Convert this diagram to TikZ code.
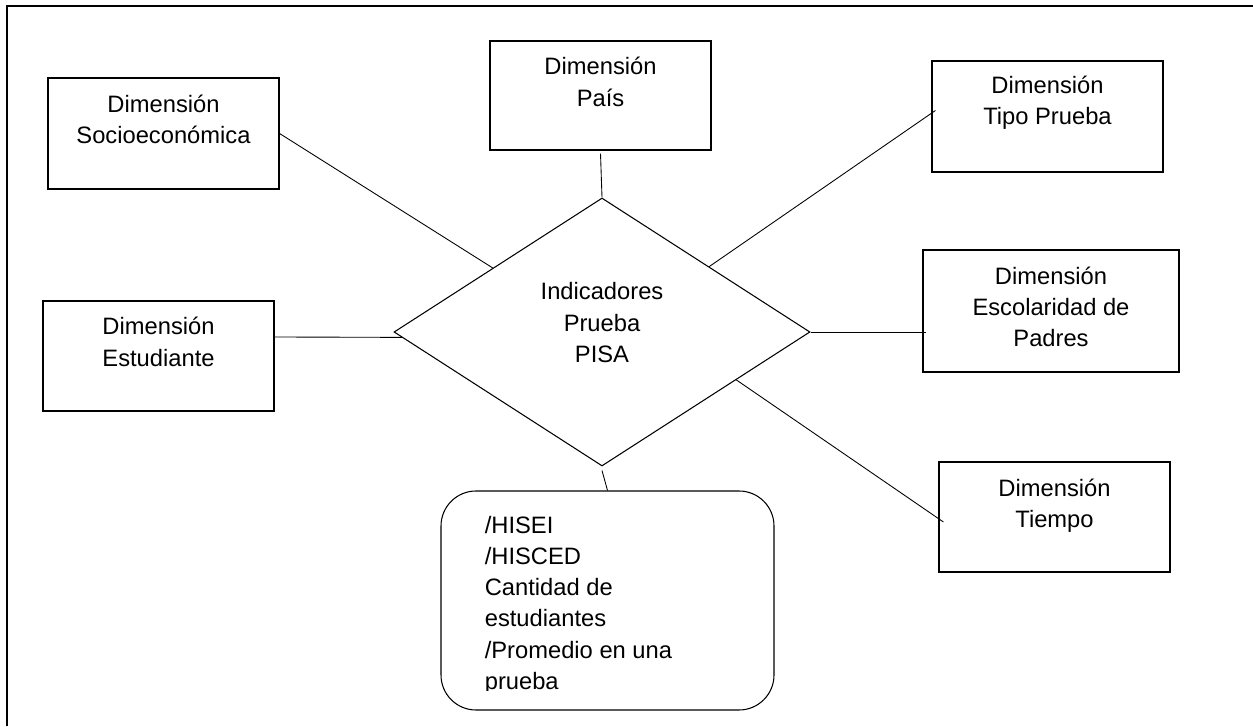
\documentclass[tikz,border=0pt]{standalone}
\usepackage{fontspec}
\setmainfont{Liberation Sans}
\usepackage{tikz}
\usetikzlibrary{shapes.geometric, calc}

\begin{document}
\begin{tikzpicture}[
    dimbox/.style={rectangle, draw=black, line width=0.65pt, minimum width=4.62cm, minimum height=2.22cm, inner sep=0pt},
    dimtext/.style={anchor=north, inner sep=0pt, align=center, font=\fontsize{13.5}{17.8}\selectfont},
    indicbox/.style={diamond, draw=black, line width=0.6pt, minimum width=8.32cm, minimum height=5.36cm, inner sep=0pt, align=center, font=\fontsize{13.5}{17.8}\selectfont},
    listbox/.style={rectangle, rounded corners=0.7cm, draw=black, line width=0.6pt, minimum width=6.66cm, minimum height=4.38cm, inner sep=0pt},
    listtext/.style={anchor=north west, inner sep=0pt, align=left, font=\fontsize{13.5}{17.8}\selectfont},
    link/.style={draw=black, line width=0.5pt},
    frame/.style={line width=1.2pt}
]
\useasboundingbox (0,0) rectangle (25.06,14.52);

% marco
\draw[frame] (0.14,0) -- (0.14,14.40) -- (25.06,14.40);

% indicadores (centro)
\node[indicbox] (ind) at (12.04,7.88) {Indicadores\\Prueba\\PISA\\[-0.25cm]};

% dimensiones
\node[dimbox] (socio) at (3.27,11.85) {};
\node[dimtext] (socio-t) at ([yshift=-0.34cm]socio.north) {Dimensión\\Socioeconómica};

\node[dimbox, minimum width=4.42cm, minimum height=2.18cm] (pais) at (12.01,12.61) {};
\node[dimtext] (pais-t) at ([yshift=-0.33cm]pais.north) {Dimensión\\País};

\node[dimbox] (tipo) at (20.95,12.19) {};
\node[dimtext] (tipo-t) at ([yshift=-0.30cm]tipo.north) {Dimensión\\Tipo Prueba};

\node[dimbox, minimum height=2.2cm] (estud) at (3.17,7.40) {};
\node[dimtext] (estud-t) at ([yshift=-0.33cm]estud.north) {Dimensión\\Estudiante};

\node[dimbox, minimum width=5.12cm, minimum height=2.44cm] (escol) at (21.02,8.30) {};
\node[dimtext] (escol-t) at ([yshift=-0.34cm]escol.north) {Dimensión\\Escolaridad de\\Padres};

\node[dimbox, minimum height=2.2cm] (tiempo) at (21.09,4.18) {};
\node[dimtext] (tiempo-t) at ([yshift=-0.34cm]tiempo.north) {Dimensión\\Tiempo};

% lista de indicadores
\node[listbox] (lista) at (12.15,2.51) {};
\begin{scope}
\clip ([yshift=0.40cm]lista.south west) rectangle (lista.north east);
\node[listtext] (lista-t) at ([xshift=0.88cm, yshift=-0.50cm]lista.north west) {/HISEI\\/HISCED\\Cantidad de\\estudiantes\\/Promedio en una\\prueba};
\end{scope}

% conexiones
\draw[link] (socio.east) -- ($(ind.west)!0.476!(ind.north)$);
\draw[link] ([yshift=-0.06cm]pais.south) -- (ind.north);
\draw[link] ($(ind.north)!0.514!(ind.east)$) -- ([xshift=0.08cm, yshift=0.12cm]tipo.west);
\draw[link] ([yshift=0.38cm]estud.east) -- ($(ind.west)!0.04!(ind.south)$);
\draw[link] (ind.east) -- ([xshift=0.08cm]ind.east -| escol.west);
\draw[link] ($(ind.east)!0.356!(ind.south)$) -- ([xshift=0.1cm, yshift=-0.1cm]tiempo.west);
\draw[link] ([yshift=-0.08cm]ind.south) -- (lista.north);

\end{tikzpicture}
\end{document}
